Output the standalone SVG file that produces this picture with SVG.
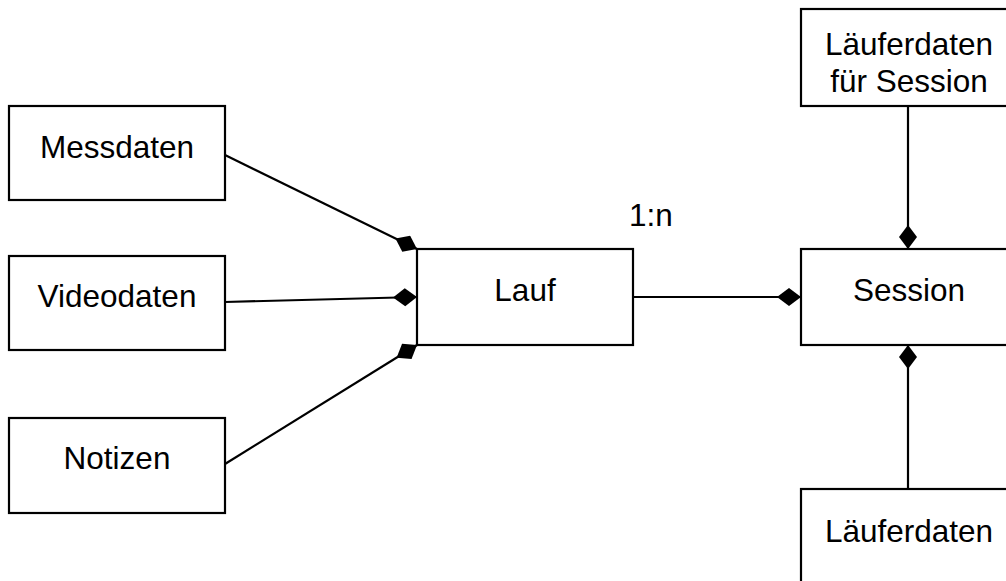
<svg xmlns="http://www.w3.org/2000/svg" width="1006" height="581" viewBox="0 0 1006 581">
<style>
.box{fill:#fff;stroke:#000;stroke-width:2.2}
.lbl{font-family:"Liberation Sans",Arial,sans-serif;font-size:31.5px;fill:#000;text-anchor:middle}
.con{stroke:#000;stroke-width:2.2;fill:none;marker-end:url(#dia)}
</style>
<defs>
<marker id="dia" markerUnits="userSpaceOnUse" markerWidth="26" markerHeight="20" refX="24" refY="9" orient="auto" viewBox="0 0 26 20">
<path d="M0,9 L12,0 L24,9 L12,18 Z" fill="#000"/>
</marker>
</defs>
<rect width="1006" height="581" fill="#fff"/>
<g id="connectors">
<line class="con" x1="225" y1="155" x2="417" y2="249"/>
<line class="con" x1="225" y1="302" x2="417" y2="297"/>
<line class="con" x1="225" y1="464" x2="417" y2="345"/>
<line class="con" x1="633" y1="297" x2="801" y2="297"/>
<line class="con" x1="908" y1="106" x2="908" y2="249"/>
<line class="con" x1="908" y1="489" x2="908" y2="345"/>
<text class="lbl" x="651" y="226">1:n</text>
</g>
<g id="messdaten"><rect class="box" x="9" y="106" width="216" height="94"/><text class="lbl" x="117" y="158">Messdaten</text></g>
<g id="videodaten"><rect class="box" x="9" y="256" width="216" height="94"/><text class="lbl" x="117" y="307">Videodaten</text></g>
<g id="notizen"><rect class="box" x="9" y="418" width="216" height="95"/><text class="lbl" x="117" y="469">Notizen</text></g>
<g id="lauf"><rect class="box" x="417" y="249" width="216" height="96"/><text class="lbl" x="525" y="301">Lauf</text></g>
<g id="session"><rect class="box" x="801" y="249" width="216" height="96"/><text class="lbl" x="909" y="301">Session</text></g>
<g id="laeuferdaten-session"><rect class="box" x="801" y="9" width="216" height="97"/><text class="lbl" x="909" y="55">Läuferdaten</text><text class="lbl" x="909" y="92">für Session</text></g>
<g id="laeuferdaten"><rect class="box" x="801" y="489" width="216" height="120"/><text class="lbl" x="909" y="542">Läuferdaten</text></g>
</svg>
